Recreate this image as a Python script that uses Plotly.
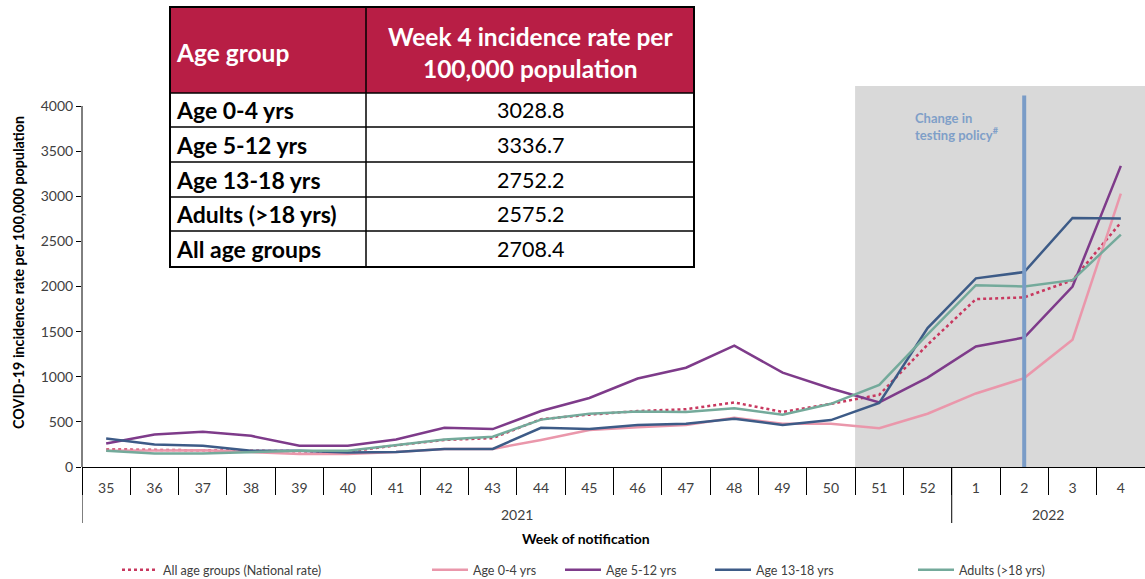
import plotly.graph_objects as go

weeks = ['35','36','37','38','39','40','41','42','43','44','45','46','47','48','49','50','51','52','1','2','3','4']
years = ['2021']*18 + ['2022']*4

all_ages = [195,190,180,175,175,170,240,300,320,530,580,620,640,715,610,700,800,1355,1860,1880,2070,2708.4]
age_0_4 = [180,185,185,165,145,145,165,200,200,300,410,440,465,545,480,480,430,590,815,985,1410,3028.8]
age_5_12 = [260,360,390,345,235,235,305,435,420,620,765,980,1100,1345,1045,870,715,990,1335,1435,2000,3336.7]
age_13_18 = [315,250,235,180,180,160,165,200,200,435,420,465,480,535,465,520,710,1540,2090,2160,2760,2752.2]
adults = [180,150,150,165,180,180,245,305,335,525,590,615,610,650,580,700,910,1470,2015,2000,2070,2575.2]

table_header = ["Age group", "Week 4 incidence rate per<br>100,000 population"]
table_groups = ['Age 0-4 yrs','Age 5-12 yrs','Age 13-18 yrs','Adults (>18 yrs)','All age groups']
table_values = [age_0_4[-1], age_5_12[-1], age_13_18[-1], adults[-1], all_ages[-1]]

FONT = "Lato"
W, H = 1145, 579
AX_Y = 467          # pixel row of the x axis
ML, MR, MT, MB = 82, 0, 7, H - AX_Y
PW = W - ML - MR
PH = H - MT - MB
plot_top_px = 86
y_dom_top = (AX_Y - plot_top_px) / PH
YMAX = 4000 * (AX_Y - plot_top_px) / (AX_Y - 106)

def px_x(p):
    return (p - ML) / PW

def px_y(p):
    return (AX_Y - p) / PH

series = [
    ("All age groups (National rate)", all_ages, "#c8385f", "dot"),
    ("Age 0-4 yrs", age_0_4, "#ea97ab", "solid"),
    ("Age 5-12 yrs", age_5_12, "#7e3b8a", "solid"),
    ("Age 13-18 yrs", age_13_18, "#3d5b87", "solid"),
    ("Adults (>18 yrs)", adults, "#74aa9b", "solid"),
]
legend_px = [123, 433, 566, 716, 919]

fig = go.Figure()
legend_layouts = {}
for i, (name, vals, col, dash) in enumerate(series):
    lname = "legend" if i == 0 else f"legend{i+1}"
    fig.add_trace(go.Scatter(
        x=weeks, y=vals, name=name, mode="lines",
        line=dict(color=col, width=2.5, dash=dash),
        legend=lname, hoverinfo="skip",
    ))
    legend_layouts[lname] = dict(
        xref="container", yref="container",
        x=(legend_px[i] - 6) / W, y=1 - 570 / H, xanchor="left", yanchor="middle",
        orientation="h", bgcolor="rgba(0,0,0,0)", itemwidth=36,
        font=dict(family=FONT, size=12.5, color="#404040"),
    )

# year groups (second level of the category axis)
year_groups = []
for i, yv in enumerate(years):
    if not year_groups or year_groups[-1][0] != yv:
        year_groups.append([yv, i, i])
    else:
        year_groups[-1][2] = i

# ---- table drawn with shapes + annotations ----
T_L, T_M, T_R = 170, 366, 694
T_TOP, T_HB = 7, 93
row_lines = [93, 127, 162, 197, 231, 267]
T_BOT = row_lines[-1]
LW = 1.5
shapes = [
    dict(type="rect", xref="x", yref="y", x0=15.5, x1=21.5, y0=0, y1=YMAX,
         fillcolor="#d9d9d9", line=dict(width=0), layer="below"),
    dict(type="line", xref="x", yref="y", x0=19, x1=19, y0=0, y1=4117,
         line=dict(color="#7a9cc7", width=4), layer="above"),
    dict(type="line", xref="paper", yref="y", x0=0, x1=0, y0=0, y1=4000,
         line=dict(color="black", width=1)),
    dict(type="rect", xref="paper", yref="paper",
         x0=px_x(T_L), x1=px_x(T_R), y0=px_y(T_HB), y1=px_y(T_TOP),
         fillcolor="#b81e45", line=dict(width=0), layer="above"),
    dict(type="rect", xref="paper", yref="paper",
         x0=px_x(T_L), x1=px_x(T_R), y0=px_y(T_BOT), y1=px_y(T_HB),
         fillcolor="white", line=dict(width=0), layer="above"),
    dict(type="rect", xref="paper", yref="paper",
         x0=px_x(T_L), x1=px_x(T_R), y0=px_y(T_BOT), y1=px_y(T_TOP),
         fillcolor="rgba(0,0,0,0)", line=dict(color="black", width=2), layer="above"),
    dict(type="line", xref="paper", yref="paper",
         x0=px_x(T_M), x1=px_x(T_M), y0=px_y(T_BOT), y1=px_y(T_TOP),
         line=dict(color="black", width=LW), layer="above"),
]
for r in row_lines[:-1]:
    shapes.append(dict(type="line", xref="paper", yref="paper",
                       x0=px_x(T_L), x1=px_x(T_R), y0=px_y(r), y1=px_y(r),
                       line=dict(color="black", width=LW), layer="above"))
# year dividers
for g in year_groups:
    shapes.append(dict(type="line", xref="x", yref="paper",
                       x0=g[1] - 0.5, x1=g[1] - 0.5, y0=0, y1=px_y(523),
                       line=dict(color="black", width=1)))

annotations = [
    dict(xref="paper", yref="y", x=px_x(913), y=4000 * (AX_Y - 126) / (AX_Y - 106),
         text="<b>Change in<br>testing policy<sup>#</sup></b>", showarrow=False,
         xanchor="left", yanchor="middle", align="left",
         font=dict(family=FONT, size=13, color="#7f9fc8")),
    dict(xref="paper", yref="paper", x=px_x(586), y=px_y(538),
         text="<b>Week of notification</b>", showarrow=False,
         xanchor="center", yanchor="middle",
         font=dict(family=FONT, size=14, color="black")),
    dict(xref="paper", yref="paper", x=px_x(18), y=px_y(273),
         text="<b>COVID-19 incidence rate per 100,000 population</b>", showarrow=False,
         textangle=-90, xanchor="center", yanchor="middle",
         font=dict(family=FONT, size=14.3, color="black")),
    dict(xref="paper", yref="paper", x=px_x(T_L + 4), y=px_y(53),
         text="<b>%s</b>" % table_header[0], showarrow=False,
         xanchor="left", yanchor="middle",
         font=dict(family=FONT, size=24.5, color="white")),
    dict(xref="paper", yref="paper", x=px_x((T_M + T_R) / 2), y=px_y(52.5),
         text="<b>%s</b>" % table_header[1], showarrow=False,
         xanchor="center", yanchor="middle", align="center",
         font=dict(family=FONT, size=24.5, color="white")),
]
for g in year_groups:
    annotations.append(dict(xref="x", yref="paper", x=(g[1] + g[2]) / 2, y=px_y(514),
                            text=g[0], showarrow=False, xanchor="center", yanchor="middle",
                            font=dict(family=FONT, size=14, color="#404040")))
for i, (g, v) in enumerate(zip(table_groups, table_values)):
    cy = (row_lines[i] + row_lines[i + 1]) / 2
    annotations.append(dict(xref="paper", yref="paper", x=px_x(T_L + 4), y=px_y(cy),
                            text="<b>%s</b>" % g, showarrow=False,
                            xanchor="left", yanchor="middle",
                            font=dict(family=FONT, size=23, color="black")))
    annotations.append(dict(xref="paper", yref="paper", x=px_x((T_M + T_R) / 2), y=px_y(cy),
                            text="%.1f" % v, showarrow=False,
                            xanchor="center", yanchor="middle",
                            font=dict(family=FONT, size=21.5, color="black")))

fig.update_layout(
    width=W, height=H,
    margin=dict(l=ML, r=MR, t=MT, b=MB, autoexpand=False),
    paper_bgcolor="white", plot_bgcolor="white",
    showlegend=True,
    shapes=shapes, annotations=annotations,
    xaxis=dict(
        type="category", categoryorder="array", categoryarray=weeks,
        range=[-0.5, 21.5],
        automargin=False,
        showline=True, linecolor="black", linewidth=1,
        ticks="outside", tickson="boundaries", ticklen=27, tickcolor="black",
        ticklabelstandoff=8,
        showgrid=False, zeroline=False,
        tickfont=dict(family=FONT, size=14, color="#404040"),
    ),
    yaxis=dict(
        domain=[0, y_dom_top],
        range=[0, YMAX],
        automargin=False,
        tickmode="array", tickvals=[0,500,1000,1500,2000,2500,3000,3500,4000],
        ticks="outside", ticklen=5, tickcolor="black",
        showline=False, showgrid=False, zeroline=False,
        tickfont=dict(family=FONT, size=14, color="#404040"),
    ),
    **legend_layouts,
)

fig.write_html("out.html", config={"displayModeBar": False},
               post_script="document.body.style.margin='0px';")
